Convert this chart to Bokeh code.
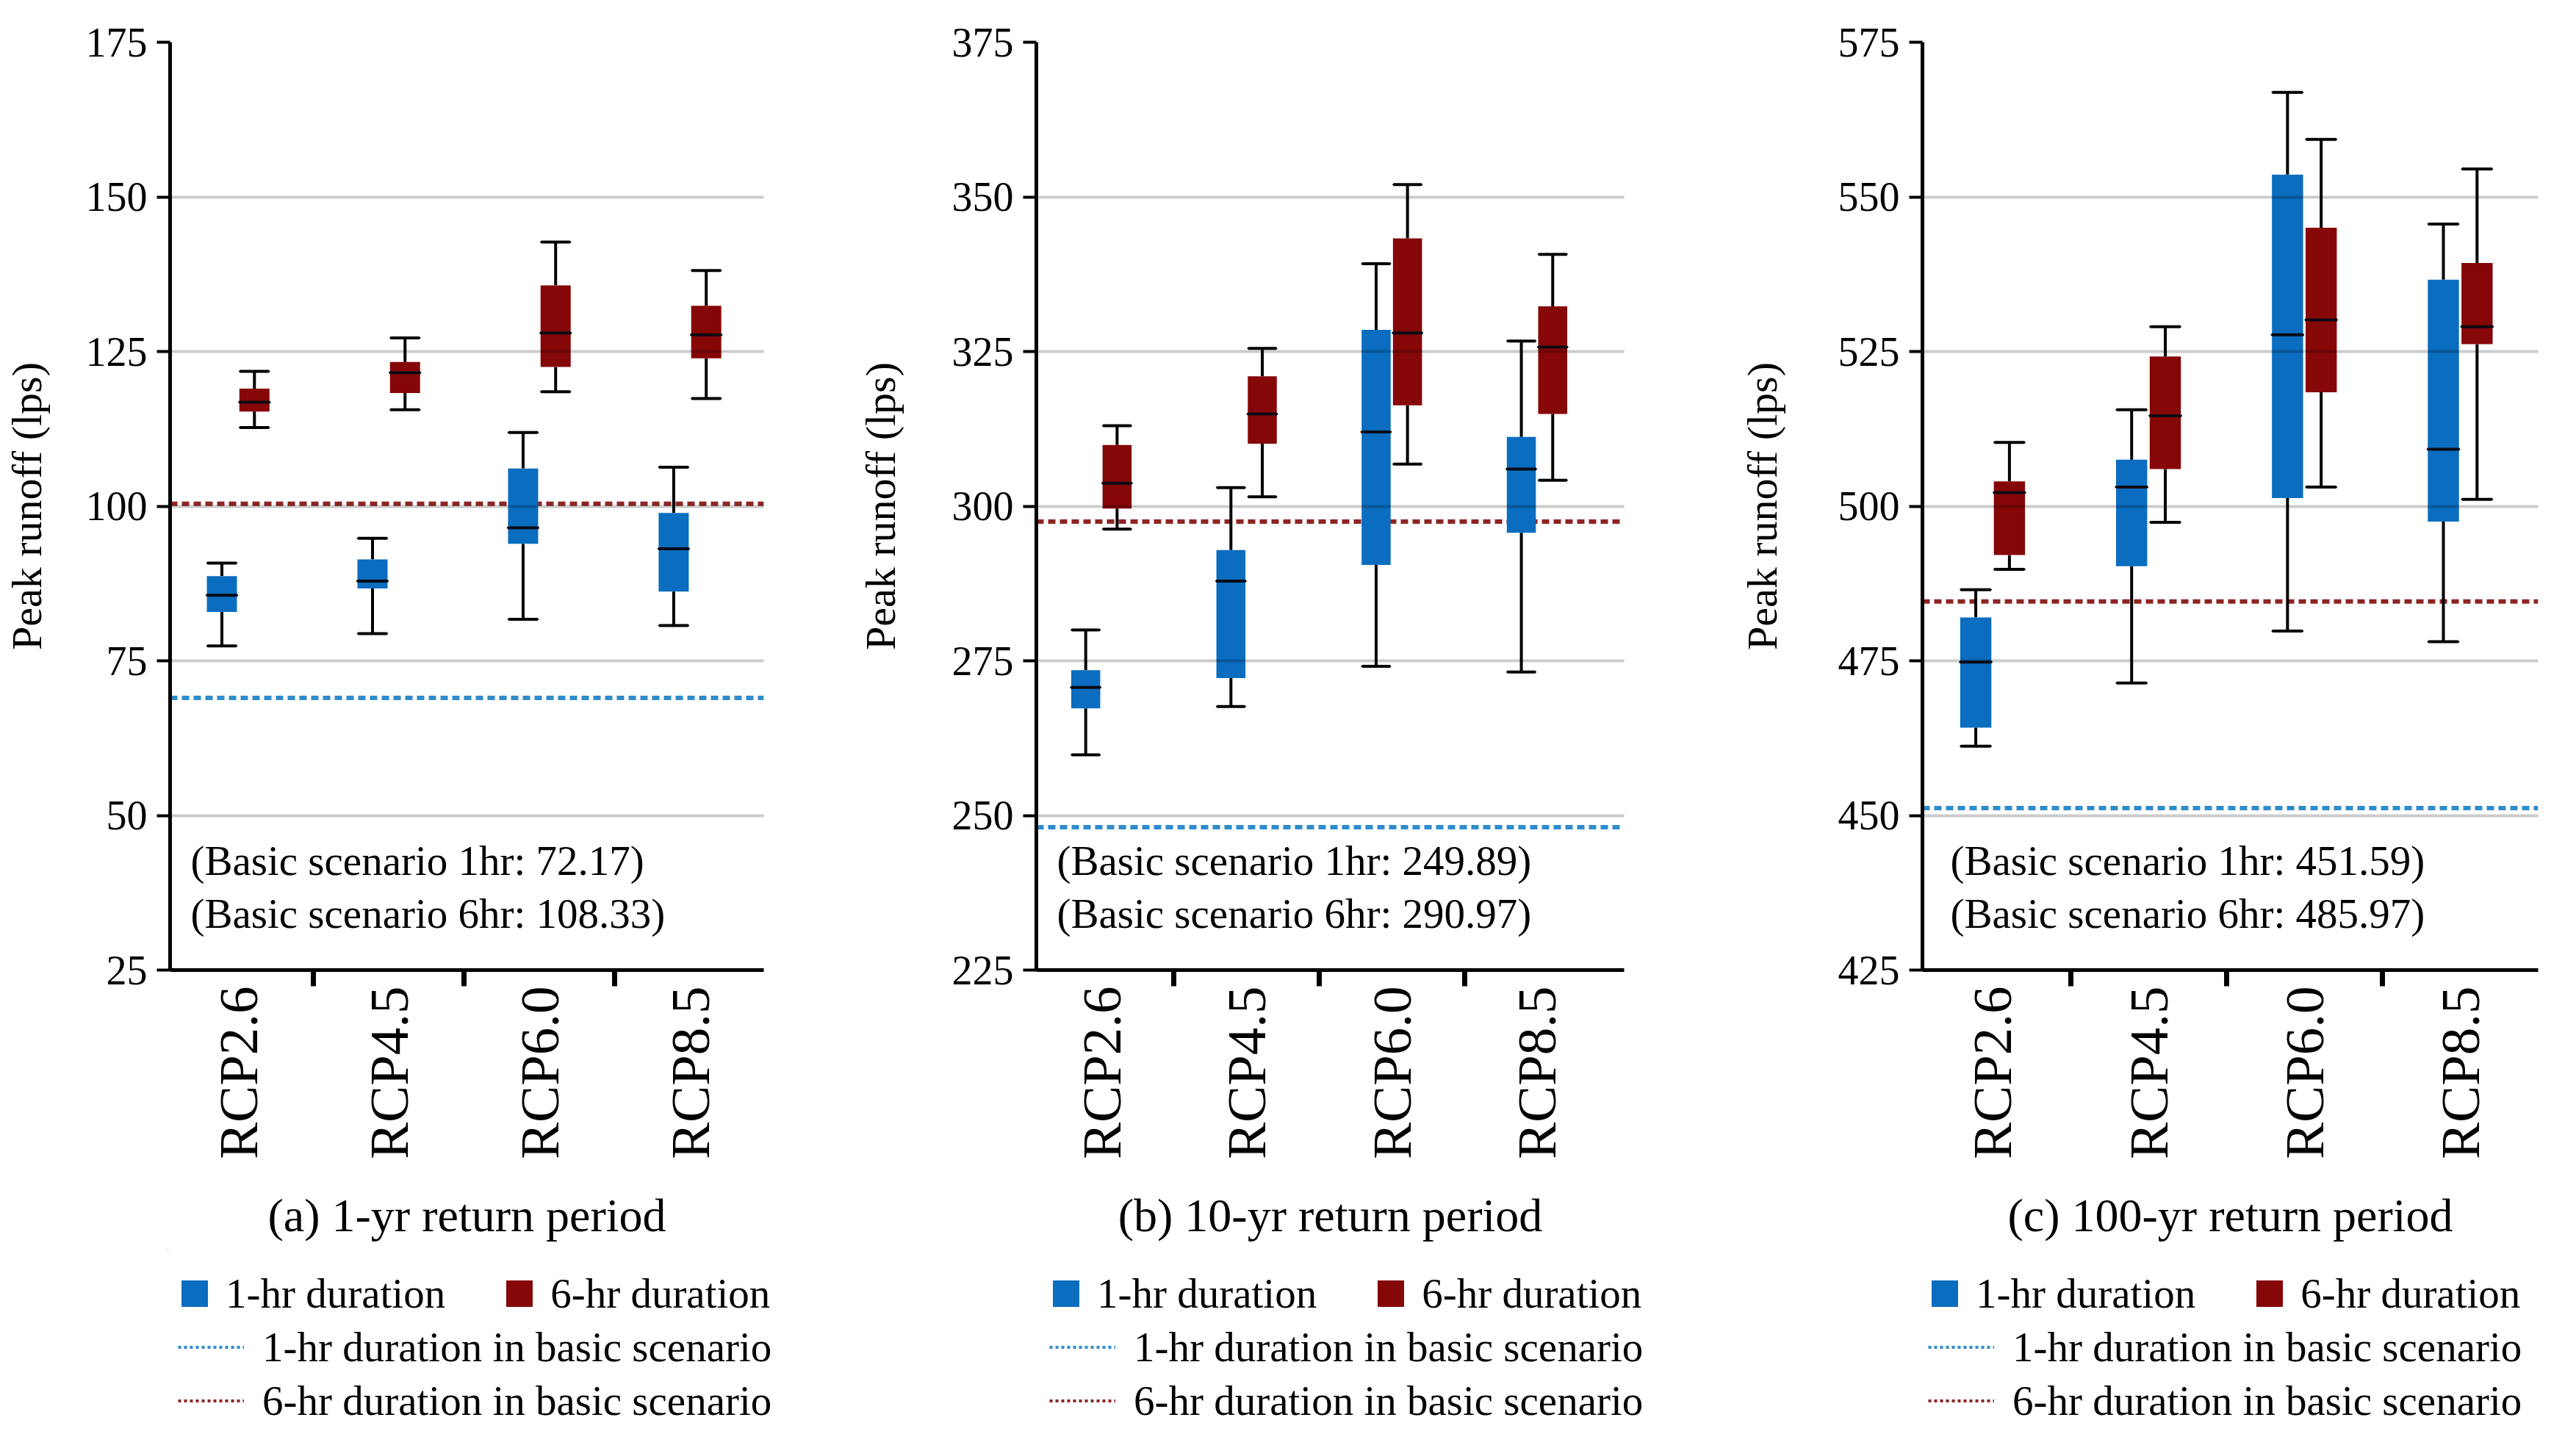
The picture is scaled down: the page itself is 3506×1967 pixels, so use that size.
import math
from bokeh.plotting import figure
from bokeh.models import (Range1d, FixedTicker, Legend, LegendItem, Label,
                          ColumnDataSource)
from bokeh.layouts import row, column
from bokeh.embed import file_html
from bokeh.resources import INLINE

categories = ["RCP2.6", "RCP4.5", "RCP6.0", "RCP8.5"]
positions = [1, 2, 3, 4]

# ---- (a) 1-yr return period ----
a_1hr_lower = [77.4, 79.4, 81.7, 80.7]
a_1hr_q1 = [82.9, 86.7, 93.9, 86.2]
a_1hr_median = [85.6, 87.9, 96.5, 93.1]
a_1hr_q3 = [88.7, 91.4, 106.1, 98.9]
a_1hr_upper = [90.8, 94.8, 111.9, 106.3]
a_6hr_lower = [112.7, 115.6, 118.5, 117.4]
a_6hr_q1 = [115.3, 118.3, 122.5, 123.9]
a_6hr_median = [116.8, 121.6, 128.0, 127.7]
a_6hr_q3 = [119.0, 123.3, 135.7, 132.4]
a_6hr_upper = [121.8, 127.2, 142.7, 138.1]
a_basic_1hr = 69.0
a_basic_6hr = 100.4
a_yticks = [25, 50, 75, 100, 125, 150, 175]
a_notes = ["(Basic scenario 1hr: 72.17)", "(Basic scenario 6hr: 108.33)"]

# ---- (b) 10-yr return period ----
b_1hr_lower = [259.8, 267.6, 274.1, 273.2]
b_1hr_q1 = [267.3, 272.2, 290.5, 295.7]
b_1hr_median = [270.7, 287.9, 312.0, 306.0]
b_1hr_q3 = [273.5, 292.9, 328.5, 311.2]
b_1hr_upper = [280.0, 303.0, 339.2, 326.7]
b_6hr_lower = [296.3, 301.5, 306.8, 304.2]
b_6hr_q1 = [299.6, 310.1, 316.3, 314.9]
b_6hr_median = [303.7, 314.9, 328.0, 325.7]
b_6hr_q3 = [309.9, 321.0, 343.3, 332.3]
b_6hr_upper = [313.0, 325.5, 352.0, 340.7]
b_basic_1hr = 248.1
b_basic_6hr = 297.5
b_yticks = [225, 250, 275, 300, 325, 350, 375]
b_notes = ["(Basic scenario 1hr: 249.89)", "(Basic scenario 6hr: 290.97)"]

# ---- (c) 100-yr return period ----
c_1hr_lower = [461.2, 471.4, 479.8, 478.1]
c_1hr_q1 = [464.2, 490.3, 501.3, 497.5]
c_1hr_median = [474.8, 503.1, 527.7, 509.2]
c_1hr_q3 = [482.0, 507.5, 553.6, 536.6]
c_1hr_upper = [486.5, 515.6, 566.9, 545.6]
c_6hr_lower = [489.8, 497.4, 503.1, 501.1]
c_6hr_q1 = [492.1, 506.0, 518.4, 526.2]
c_6hr_median = [502.2, 514.6, 530.1, 529.0]
c_6hr_q3 = [504.0, 524.2, 545.0, 539.3]
c_6hr_upper = [510.3, 529.0, 559.3, 554.5]
c_basic_1hr = 451.2
c_basic_6hr = 484.6
c_yticks = [425, 450, 475, 500, 525, 550, 575]
c_notes = ["(Basic scenario 1hr: 451.59)", "(Basic scenario 6hr: 485.97)"]

titles = ["(a) 1-yr return period", "(b) 10-yr return period", "(c) 100-yr return period"]
series_labels = ["1-hr duration", "6-hr duration",
                 "1-hr duration in basic scenario", "6-hr duration in basic scenario"]

BLUE = "#0b6dbf"
RED = "#860707"
BLUE_LINE = "#2f8ccc"
RED_LINE = "#8e2424"
FONT = "Liberation Serif"
DASH = "10 6"
BOX_W = 0.2
CAP_W = 0.19
OFF = 0.108


def make_panel(stats1, stats6, basic1, basic6, yticks, notes, title_text,
               xr, width, left, right, ylab_standoff, note_dx):
    p = figure(width=width, height=1700, output_backend="svg", toolbar_location=None,
               x_range=Range1d(*xr), y_range=Range1d(yticks[0], yticks[-1]),
               min_border_left=left, min_border_right=right,
               min_border_top=57, min_border_bottom=380)
    p.outline_line_color = None

    # basic scenario lines (behind boxes)
    p.line(x=[xr[0], xr[1]], y=[basic1, basic1], line_color=BLUE_LINE,
           line_width=6, line_dash=DASH)
    p.line(x=[xr[0], xr[1]], y=[basic6, basic6], line_color=RED_LINE,
           line_width=6, line_dash=DASH)

    srcs = []
    for stats, sign, color in ((stats1, -1, BLUE), (stats6, 1, RED)):
        lo, q1, med, q3, hi = stats
        src = ColumnDataSource(dict(x=[v + sign * OFF for v in positions],
                                    lo=lo, q1=q1, med=med, q3=q3, hi=hi))
        p.segment(x0="x", y0="q3", x1="x", y1="hi", source=src, line_color="black", line_width=4)
        p.segment(x0="x", y0="lo", x1="x", y1="q1", source=src, line_color="black", line_width=4)
        p.rect(x="x", y="hi", width=CAP_W, height=0.0001, source=src, line_color="black",
               line_width=4, fill_alpha=0)
        p.rect(x="x", y="lo", width=CAP_W, height=0.0001, source=src, line_color="black",
               line_width=4, fill_alpha=0)
        p.vbar(x="x", width=BOX_W, top="q3", bottom="q1", source=src,
               fill_color=color, line_color=None)
        p.rect(x="x", y="med", width=BOX_W, height=0.0001, source=src, line_color="#0a0a14",
               line_width=4, fill_alpha=0)
        srcs.append(src)

    # axes
    xa = p.xaxis[0]
    xa.ticker = FixedTicker(ticks=positions, minor_ticks=[1.5, 2.5, 3.5])
    xa.major_label_overrides = {pos: lab for pos, lab in zip(positions, categories)}
    xa.major_label_orientation = math.pi / 2
    xa.major_tick_out = 0
    xa.major_tick_in = 0
    xa.minor_tick_out = 22
    xa.minor_tick_in = 0
    xa.minor_tick_line_width = 7
    xa.minor_tick_line_color = "black"
    xa.axis_line_width = 5
    xa.axis_line_color = "black"
    xa.major_label_text_font = FONT
    xa.major_label_text_font_size = "75px"
    xa.major_label_text_color = "black"
    xa.major_label_standoff = 0
    xa.axis_label = title_text
    xa.axis_label_text_font = FONT
    xa.axis_label_text_font_size = "64px"
    xa.axis_label_text_font_style = "normal"
    xa.axis_label_text_color = "black"
    xa.axis_label_standoff = 38

    ya = p.yaxis[0]
    ya.ticker = FixedTicker(ticks=yticks)
    ya.major_tick_out = 18
    ya.major_tick_in = 0
    ya.major_tick_line_width = 4
    ya.minor_tick_out = 0
    ya.minor_tick_in = 0
    ya.axis_line_width = 5
    ya.axis_line_color = "black"
    ya.major_label_text_font = FONT
    ya.major_label_text_font_size = "56px"
    ya.major_label_text_color = "black"
    ya.major_label_standoff = 13
    ya.axis_label = "Peak runoff (lps)"
    ya.axis_label_text_font = FONT
    ya.axis_label_text_font_size = "58px"
    ya.axis_label_text_font_style = "normal"
    ya.axis_label_text_color = "black"
    ya.axis_label_standoff = ylab_standoff

    p.xgrid.visible = False
    p.ygrid.ticker = FixedTicker(ticks=yticks)
    p.ygrid.grid_line_color = "black"
    p.ygrid.grid_line_alpha = 0.2
    p.ygrid.grid_line_width = 4
    p.ygrid.level = "annotation"

    # notes
    frac = [0.118, 0.061]
    for note, f in zip(notes, frac):
        p.add_layout(Label(x=xr[0], y=yticks[0] + f * (yticks[-1] - yticks[0]),
                           x_offset=note_dx, text=note, text_font=FONT,
                           text_font_size="57px", text_baseline="middle",
                           text_color="black"))
    return p, srcs


xr_a = (0.548, 4.49)
pa, srcs_a = make_panel((a_1hr_lower, a_1hr_q1, a_1hr_median, a_1hr_q3, a_1hr_upper),
                        (a_6hr_lower, a_6hr_q1, a_6hr_median, a_6hr_q3, a_6hr_upper),
                        a_basic_1hr, a_basic_6hr, a_yticks, a_notes, titles[0],
                        xr_a, 1162, 228, 123, 45, 28)
pb, _ = make_panel((b_1hr_lower, b_1hr_q1, b_1hr_median, b_1hr_q3, b_1hr_upper),
                   (b_6hr_lower, b_6hr_q1, b_6hr_median, b_6hr_q3, b_6hr_upper),
                   b_basic_1hr, b_basic_6hr, b_yticks, b_notes, titles[1],
                   (0.552, 4.60), 1200, 244, 152, 62, 28)
pc, _ = make_panel((c_1hr_lower, c_1hr_q1, c_1hr_median, c_1hr_q3, c_1hr_upper),
                   (c_6hr_lower, c_6hr_q1, c_6hr_median, c_6hr_q3, c_6hr_upper),
                   c_basic_1hr, c_basic_6hr, c_yticks, c_notes, titles[2],
                   (0.55, 4.50), 1128, 235, 36, 68, 38)

# ---- legend strip spanning all three panels ----
lg = figure(width=3490, height=250, output_backend="svg", toolbar_location=None,
            x_range=Range1d(100, 101), y_range=Range1d(-1001, -1000),
            min_border_left=228, min_border_right=36,
            min_border_top=0, min_border_bottom=0,
            x_axis_location=None, y_axis_location=None)
lg.outline_line_color = None
lg.grid.visible = False
# renderers with the series' styles; their data lie far outside this strip's ranges
rb1 = lg.vbar(x="x", width=BOX_W, top="q3", bottom="q1", source=srcs_a[0],
              fill_color=BLUE, line_color=None)
rb6 = lg.vbar(x="x", width=BOX_W, top="q3", bottom="q1", source=srcs_a[1],
              fill_color=RED, line_color=None)
rl1 = lg.line(x=list(xr_a), y=[a_basic_1hr, a_basic_1hr], line_color=BLUE_LINE,
              line_width=4, line_dash="4 4")
rl6 = lg.line(x=list(xr_a), y=[a_basic_6hr, a_basic_6hr], line_color=RED_LINE,
              line_width=4, line_dash="4 4")

for dx in (14, 1200, 2396):
    leg1 = Legend(items=[LegendItem(label=series_labels[0], renderers=[rb1]),
                         LegendItem(label=series_labels[1], renderers=[rb6])],
                  orientation="horizontal", location=(dx, 157),
                  glyph_width=45, glyph_height=45, label_standoff=20, spacing=78,
                  label_text_font=FONT, label_text_font_size="57px",
                  label_text_color="black",
                  label_height=55, padding=0, margin=0,
                  border_line_alpha=0, background_fill_alpha=0)
    leg2 = Legend(items=[LegendItem(label=series_labels[2], renderers=[rl1]),
                         LegendItem(label=series_labels[3], renderers=[rl6])],
                  orientation="vertical", location=(dx, 11),
                  glyph_width=90, glyph_height=45, label_standoff=25, spacing=8,
                  label_text_font=FONT, label_text_font_size="57px",
                  label_text_color="black",
                  label_height=55, padding=0, margin=0,
                  border_line_alpha=0, background_fill_alpha=0)
    lg.add_layout(leg1)
    lg.add_layout(leg2)

layout = column(row(pa, pb, pc, spacing=0), lg, spacing=0)
open("out.html", "w").write(file_html(layout, INLINE))
